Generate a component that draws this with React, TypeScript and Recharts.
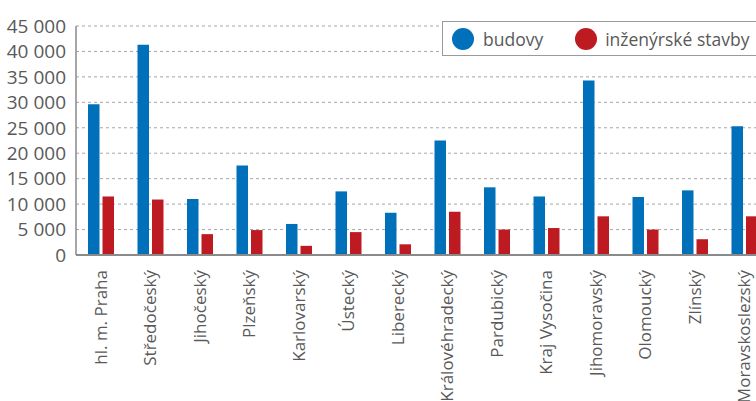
import React from "react";
import { BarChart, Bar, XAxis, YAxis, CartesianGrid, Legend } from "recharts";

const regions = [
  "hl. m. Praha",
  "Středočeský",
  "Jihočeský",
  "Plzeňský",
  "Karlovarský",
  "Ústecký",
  "Liberecký",
  "Královéhradecký",
  "Pardubický",
  "Kraj Vysočina",
  "Jihomoravský",
  "Olomoucký",
  "Zlínský",
  "Moravskoslezský",
];
const budovy = [29600, 41300, 11000, 17600, 6100, 12500, 8300, 22500, 13300, 11500, 34300, 11400, 12700, 25300];
const inzenyrske = [11500, 10900, 4100, 4900, 1800, 4500, 2100, 8500, 5000, 5300, 7600, 5000, 3100, 7600];
const yTicks = [0, 5000, 10000, 15000, 20000, 25000, 30000, 35000, 40000, 45000];

const data = regions.map((r, i) => ({ name: r, budovy: budovy[i], inz: inzenyrske[i] }));

const FONT = "'Open Sans', sans-serif";
const TEXT = "#595959";
const BLUE = "#0070BA";
const RED = "#BE1A22";

const fmt = (v: number) => {
  const s = String(v);
  if (s.length <= 3) return s;
  return s.slice(0, s.length - 3) + " " + s.slice(-3);
};

const XTick = (props: any) => {
  const { x, y, payload } = props;
  return (
    <text
      x={0}
      y={0}
      transform={`translate(${x + 6},${y + 7}) rotate(-90)`}
      textAnchor="end"
      fontFamily={FONT}
      fontSize={17}
      fill={TEXT}
    >
      {payload.value}
    </text>
  );
};

const LegendContent = () => (
  <div
    style={{
      border: "1.5px solid #9a9a9a",
      height: 35,
      width: 330,
      boxSizing: "border-box",
      display: "flex",
      alignItems: "center",
      fontFamily: FONT,
      fontSize: 17.5,
      color: TEXT,
      background: "#fff",
      whiteSpace: "nowrap",
    }}
  >
    <span style={{ display: "inline-block", width: 22, height: 22, borderRadius: 11, background: BLUE, marginLeft: 9, flex: "none" }} />
    <span style={{ marginLeft: 9 }}>budovy</span>
    <span style={{ display: "inline-block", width: 22, height: 22, borderRadius: 11, background: RED, marginLeft: 32, flex: "none" }} />
    <span style={{ marginLeft: 8 }}>inženýrské stavby</span>
  </div>
);

export default function App() {
  return (
    <div style={{ position: "fixed", left: 0, top: 0, width: 756, height: 401, overflow: "hidden", background: "#fff" }}>
      <BarChart
        width={772}
        height={401}
        data={data}
        margin={{ top: 26, right: 3, left: 0, bottom: 0 }}
        barSize={11.5}
        barGap={3}
      >
        <CartesianGrid vertical={false} stroke="#a6a6a6" strokeDasharray="3 3" />
        <XAxis
          dataKey="name"
          interval={0}
          height={146}
          tick={<XTick />}
          tickLine={false}
          axisLine={{ stroke: "#8a8a8a", strokeWidth: 2 }}
        />
        <YAxis
          width={76}
          domain={[0, 45000]}
          ticks={yTicks}
          interval={0}
          tickFormatter={fmt}
          tickLine={false}
          axisLine={{ stroke: "#8a8a8a", strokeWidth: 1.5 }}
          tick={{ fill: TEXT, fontSize: 19, fontFamily: FONT }}
          tickMargin={4}
        />
        <Legend
          layout="horizontal"
          verticalAlign="middle"
          align="center"
          content={<LegendContent />}
          wrapperStyle={{ position: "absolute", left: 442, top: 21, width: 330, height: 35 }}
        />
        <Bar dataKey="budovy" fill={BLUE} isAnimationActive={false} />
        <Bar dataKey="inz" fill={RED} isAnimationActive={false} />
      </BarChart>
    </div>
  );
}
